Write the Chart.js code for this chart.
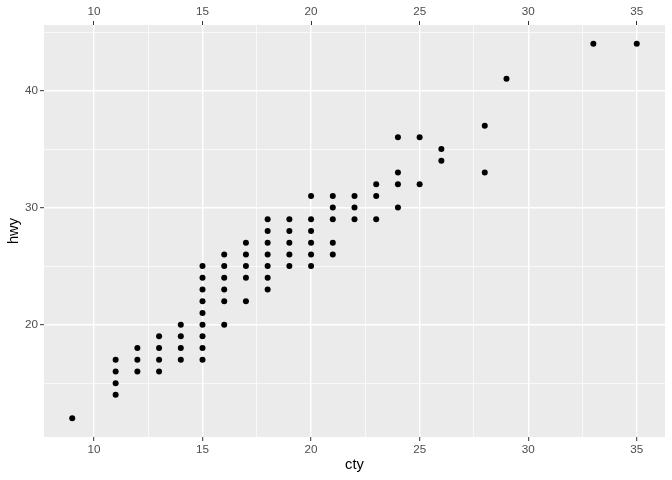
<!DOCTYPE html>
<html>
<head>
<meta charset="utf-8">
<script src="https://cdn.jsdelivr.net/npm/chart.js@4"></script>
<style>
  html, body { margin: 0; padding: 0; background: #fff; }
  #wrap { width: 672px; height: 480px; }
</style>
</head>
<body>
<div id="wrap"><canvas id="chart" width="672" height="480"></canvas></div>
<script>
// Unique (cty, hwy) points
const cty = [
    9,
    11, 11, 11, 11,
    12, 12, 12,
    13, 13, 13, 13,
    14, 14, 14, 14,
    15, 15, 15, 15, 15, 15, 15, 15, 15,
    16, 16, 16, 16, 16, 16,
    17, 17, 17, 17, 17,
    18, 18, 18, 18, 18, 18, 18,
    19, 19, 19, 19, 19,
    20, 20, 20, 20, 20, 20,
    21, 21, 21, 21, 21,
    22, 22, 22,
    23, 23, 23,
    24, 24, 24, 24,
    25, 25,
    26, 26,
    28, 28,
    29,
    33,
    35
];
const hwy = [
    12,
    14, 15, 16, 17,
    16, 17, 18,
    16, 17, 18, 19,
    17, 18, 19, 20,
    17, 18, 19, 20, 21, 22, 23, 24, 25,
    20, 22, 23, 24, 25, 26,
    22, 24, 25, 26, 27,
    23, 24, 25, 26, 27, 28, 29,
    25, 26, 27, 28, 29,
    25, 26, 27, 28, 29, 31,
    26, 27, 29, 30, 31,
    29, 30, 31,
    29, 31, 32,
    30, 32, 33, 36,
    32, 36,
    34, 35,
    33, 37,
    41,
    44,
    44
];

// Axis ranges (data range plus 5% ggplot expansion)
const xRange = [7.7, 36.3];
const yRange = [10.4, 45.6];

// Major and minor breaks
const xMajor = [10, 15, 20, 25, 30, 35];
const xMinor = [12.5, 17.5, 22.5, 27.5, 32.5];
const yMajor = [20, 30, 40];
const yMinor = [15, 25, 35, 45];

const points = cty.map((c, i) => ({ x: c, y: hwy[i] }));

const FONT = '"Liberation Sans", Arial, sans-serif';
const tickFont = { family: FONT, size: 11.7 };
const tickColor = '#4D4D4D';

function isMajor(list, v) {
    return list.some(m => Math.abs(m - v) < 1e-6);
}

function setTicks(values) {
    return function(scale) {
        scale.ticks = values.slice().sort((a, b) => a - b).map(v => ({ value: v }));
    };
}

// Grey panel background like ggplot's theme_gray
const panelBackground = {
    id: 'panelBackground',
    beforeDraw(chart) {
        const { ctx, chartArea } = chart;
        ctx.save();
        ctx.fillStyle = '#EBEBEB';
        ctx.fillRect(chartArea.left, chartArea.top,
            chartArea.right - chartArea.left, chartArea.bottom - chartArea.top);
        ctx.restore();
    }
};

const ctx = document.getElementById('chart').getContext('2d');
new Chart(ctx, {
    type: 'scatter',
    data: {
        datasets: [{
            data: points,
            backgroundColor: '#000',
            borderWidth: 0,
            pointRadius: 3,
            pointHoverRadius: 3
        }]
    },
    options: {
        responsive: false,
        animation: false,
        events: [],
        layout: { padding: { left: 0, right: 7, top: 0, bottom: 0 } },
        plugins: {
            legend: { display: false },
            tooltip: { enabled: false }
        },
        scales: {
            x: {
                type: 'linear',
                position: 'bottom',
                min: xRange[0],
                max: xRange[1],
                afterBuildTicks: setTicks(xMajor.concat(xMinor)),
                afterFit(scale) { scale.height = 43; },
                border: { display: false },
                grid: {
                    color: '#FFFFFF',
                    lineWidth: c => isMajor(xMajor, c.tick.value) ? 1.4 : 0.7,
                    tickColor: c => isMajor(xMajor, c.tick.value) ? '#333333' : 'rgba(0,0,0,0)',
                    tickLength: 4,
                    tickWidth: 1
                },
                ticks: {
                    autoSkip: false,
                    maxRotation: 0,
                    padding: 2,
                    color: tickColor,
                    font: tickFont,
                    callback: v => isMajor(xMajor, v) ? String(v) : ''
                },
                title: {
                    display: true,
                    text: 'cty',
                    color: '#000',
                    font: { family: FONT, size: 14.7 },
                    padding: { top: 0, bottom: 6 }
                }
            },
            x2: {
                type: 'linear',
                position: 'top',
                min: xRange[0],
                max: xRange[1],
                afterBuildTicks: setTicks(xMajor),
                afterFit(scale) { scale.height = 25; },
                border: { display: false },
                grid: {
                    drawOnChartArea: false,
                    tickColor: '#333333',
                    tickLength: 4,
                    tickWidth: 1
                },
                ticks: {
                    autoSkip: false,
                    maxRotation: 0,
                    padding: 2,
                    color: tickColor,
                    font: tickFont
                }
            },
            y: {
                type: 'linear',
                position: 'left',
                min: yRange[0],
                max: yRange[1],
                afterBuildTicks: setTicks(yMajor.concat(yMinor)),
                afterFit(scale) { scale.width = 44; },
                border: { display: false },
                grid: {
                    color: '#FFFFFF',
                    lineWidth: c => isMajor(yMajor, c.tick.value) ? 1.4 : 0.7,
                    tickColor: c => isMajor(yMajor, c.tick.value) ? '#333333' : 'rgba(0,0,0,0)',
                    tickLength: 4,
                    tickWidth: 1
                },
                ticks: {
                    autoSkip: false,
                    padding: 2,
                    color: tickColor,
                    font: tickFont,
                    callback: v => isMajor(yMajor, v) ? String(v) : ''
                },
                title: {
                    display: true,
                    text: 'hwy',
                    color: '#000',
                    font: { family: FONT, size: 14.7 },
                    padding: { top: 5, bottom: 0 }
                }
            }
        }
    },
    plugins: [panelBackground]
});
</script>
</body>
</html>
